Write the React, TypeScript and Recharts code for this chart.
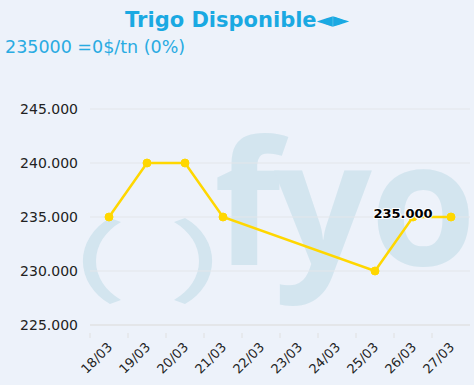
import { LineChart, Line, XAxis, YAxis, CartesianGrid, LabelList } from 'recharts';

const dates = ['18/03', '19/03', '20/03', '21/03', '22/03', '23/03', '24/03', '25/03', '26/03', '27/03'];
const prices = [235000, 240000, 240000, 235000, null, null, null, 230000, 235000, 235000];
const yTicks = [225000, 230000, 235000, 240000, 245000];
const labelIndex = 8;

const data = dates.map((d, i) => ({ date: d, price: prices[i] }));

const fmt = (v: number) => String(v).replace(/\B(?=(\d{3})+(?!\d))/g, '.');

const FONT = '"DejaVu Sans", Verdana, sans-serif';

function DateTick(props: any) {
  const { x, y, payload } = props;
  const half = 19;
  return (
    <g>
      <line x1={x - half} y1={y} x2={x - half} y2={y + 5} stroke="#e0e0e0" />
      <text x={x + 4} y={y + 15} textAnchor="end" fontSize={13} fill="#222"
        transform={`rotate(-45, ${x + 4}, ${y + 15})`} fontFamily={FONT}>
        {payload.value}
      </text>
    </g>
  );
}

function PriceLabel(props: any) {
  const { x, y, value, index } = props;
  if (index !== labelIndex || value == null) return null;
  return (
    <text x={x - 10} y={y + 1} textAnchor="middle" fontSize={13} fontWeight="bold"
      fill="#000" stroke="#fff" strokeWidth={2} paintOrder="stroke" fontFamily={FONT}>
      {fmt(value)}
    </text>
  );
}

export default function App() {
  return (
    <div style={{ position: 'absolute', left: 0, top: 0, width: 474, height: 385, background: '#edf2fa', overflow: 'hidden', fontFamily: FONT }}>
      <svg width={474} height={385} style={{ position: 'absolute', left: 0, top: 0 }}>
        <g fill="#d3e5ef" fontFamily='"Open Sans", sans-serif' fontWeight={700} fontSize={172}>
          <text x={214} y={265}>f</text>
          <text x={274} y={265}>y</text>
          <text x={370} y={265}>o</text>
        </g>
        <path d="M 121 222 A 60 48 0 0 0 121 300 L 110 304 A 62 52 0 0 1 110 218 Z" fill="#d3e5ef" />
        <path d="M 174 222 A 60 48 0 0 1 174 300 L 185 304 A 62 52 0 0 0 185 218 Z" fill="#d3e5ef" />
      </svg>
      <div style={{ position: 'absolute', left: 0, width: 474, top: 8, textAlign: 'center', color: '#1aa9e2', fontSize: 21, fontWeight: 'bold' }}>
        Trigo Disponible◄►
      </div>
      <div style={{ position: 'absolute', left: 5, top: 37, color: '#29abe2', fontSize: 17.5 }}>
        235000 =0$/tn (0%)
      </div>
      <div style={{ position: 'absolute', left: 0, top: 0 }}>
        <LineChart width={474} height={385} data={data}
          margin={{ top: 109, right: 4, left: 0, bottom: 0 }}>
          <CartesianGrid vertical={false} stroke="#e3e6ea" />
          <XAxis dataKey="date" height={60} interval={0} tickLine={false}
            padding={{ left: 19, right: 19 }}
            axisLine={{ stroke: '#e0e0e0' }} tick={<DateTick />} />
          <YAxis domain={[225000, 245000]} ticks={yTicks} width={90} axisLine={false}
            tickLine={false} tickSize={0} tickMargin={12} tickFormatter={fmt}
            tick={{ fontSize: 14, fill: '#222', fontFamily: FONT }} />
          <Line type="linear" dataKey="price" stroke="#ffd700" strokeWidth={2.5}
            connectNulls isAnimationActive={false}
            dot={{ r: 4, fill: '#ffd700', stroke: '#ffd700', strokeWidth: 1 }}>
            <LabelList dataKey="price" content={<PriceLabel />} />
          </Line>
        </LineChart>
      </div>
    </div>
  );
}
